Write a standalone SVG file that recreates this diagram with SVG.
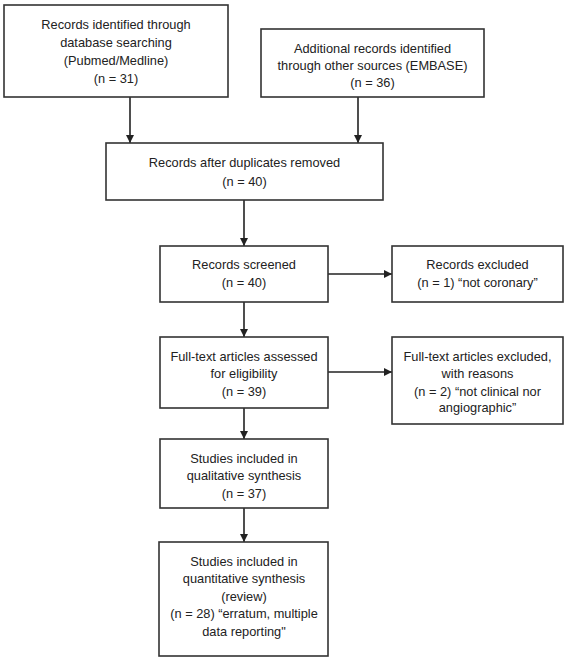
<svg xmlns="http://www.w3.org/2000/svg" width="568" height="661" viewBox="0 0 568 661">
<style>
.box{fill:#fff;stroke:#333;stroke-width:1.6}
.t{font-family:"Liberation Sans",Arial,sans-serif;font-size:12.8px;fill:#222;text-anchor:middle}
.c{stroke:#222;stroke-width:1.6;fill:none;marker-end:url(#ah)}
</style>
<defs>
<marker id="ah" markerUnits="userSpaceOnUse" markerWidth="9" markerHeight="9" refX="8" refY="4" orient="auto">
<path d="M0,0 L8,4 L0,8 z" fill="#222"/>
</marker>
</defs>
<rect width="568" height="661" fill="#fff"/>
<g id="connectors">
<line class="c" x1="130" y1="97" x2="130" y2="143"/>
<line class="c" x1="358" y1="97" x2="358" y2="143"/>
<line class="c" x1="244" y1="200" x2="244" y2="246"/>
<line class="c" x1="244" y1="302" x2="244" y2="337"/>
<line class="c" x1="328" y1="274" x2="392" y2="274"/>
<line class="c" x1="244" y1="408" x2="244" y2="439"/>
<line class="c" x1="328" y1="372" x2="392" y2="372"/>
<line class="c" x1="244" y1="508" x2="244" y2="542"/>
</g>
<g id="identified-db">
<rect class="box" x="4" y="5" width="224" height="92"/>
<text class="t" x="116" y="29">Records identified through</text>
<text class="t" x="116" y="47">database searching</text>
<text class="t" x="116" y="65">(Pubmed/Medline)</text>
<text class="t" x="116" y="83">(n = 31)</text>
</g>
<g id="identified-other">
<rect class="box" x="261" y="29" width="223" height="68"/>
<text class="t" x="372.5" y="52.5">Additional records identified</text>
<text class="t" x="372.5" y="70">through other sources (EMBASE)</text>
<text class="t" x="372.5" y="87">(n = 36)</text>
</g>
<g id="duplicates">
<rect class="box" x="106" y="143" width="277" height="57"/>
<text class="t" x="244.5" y="166.5">Records after duplicates removed</text>
<text class="t" x="244.5" y="185.5">(n = 40)</text>
</g>
<g id="screened">
<rect class="box" x="160" y="246" width="168" height="56"/>
<text class="t" x="244" y="268.5">Records screened</text>
<text class="t" x="244" y="286.5">(n = 40)</text>
</g>
<g id="excluded">
<rect class="box" x="392" y="246" width="171" height="56"/>
<text class="t" x="477.5" y="268.5">Records excluded</text>
<text class="t" x="477.5" y="286.5">(n = 1) “not coronary”</text>
</g>
<g id="fulltext">
<rect class="box" x="160" y="337" width="168" height="71"/>
<text class="t" x="244" y="360.5">Full-text articles assessed</text>
<text class="t" x="244" y="378">for eligibility</text>
<text class="t" x="244" y="395.5">(n = 39)</text>
</g>
<g id="fulltext-excluded">
<rect class="box" x="392" y="337" width="171" height="87"/>
<text class="t" x="477.5" y="361">Full-text articles excluded,</text>
<text class="t" x="477.5" y="378">with reasons</text>
<text class="t" x="477.5" y="395.5">(n = 2) “not clinical nor</text>
<text class="t" x="477.5" y="412">angiographic”</text>
</g>
<g id="qualitative">
<rect class="box" x="160" y="439" width="168" height="69"/>
<text class="t" x="244" y="462.5">Studies included in</text>
<text class="t" x="244" y="480">qualitative synthesis</text>
<text class="t" x="244" y="497.5">(n = 37)</text>
</g>
<g id="quantitative">
<rect class="box" x="159" y="542" width="169" height="114"/>
<text class="t" x="244" y="565.5">Studies included in</text>
<text class="t" x="244" y="583">quantitative synthesis</text>
<text class="t" x="244" y="600.5">(review)</text>
<text class="t" x="244" y="618">(n = 28) “erratum, multiple</text>
<text class="t" x="244" y="635.5">data reporting"</text>
</g>
</svg>
